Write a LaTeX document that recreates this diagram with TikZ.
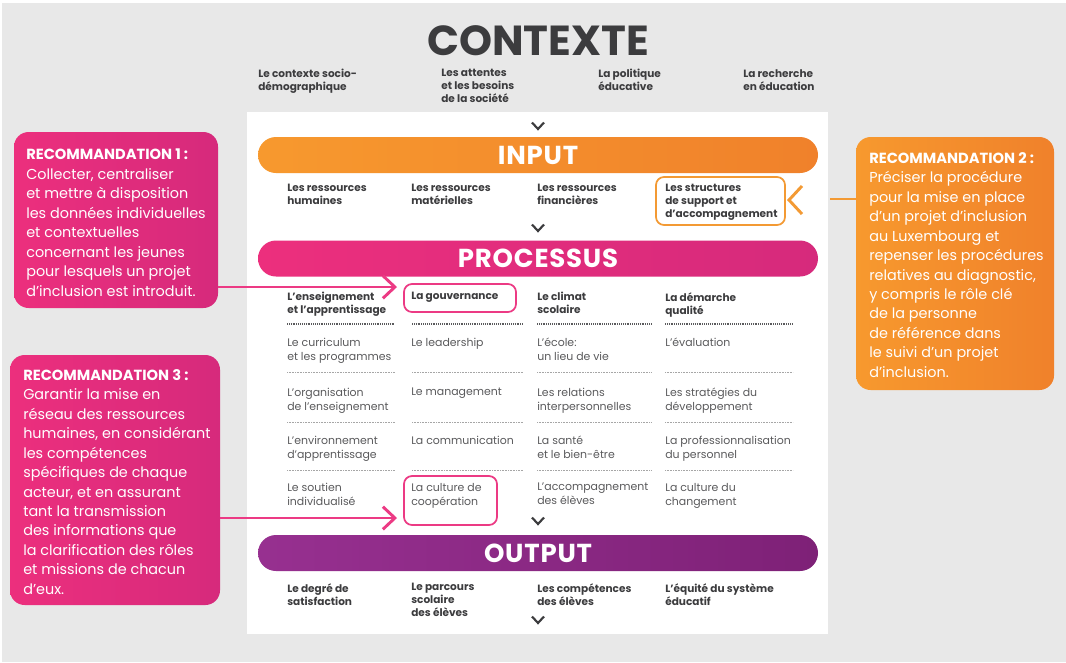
\documentclass[tikz,border=0pt]{standalone}
\usepackage{fontspec}
\setmainfont{Poppins}
\newfontfamily\headfont{Poppins}
\usetikzlibrary{positioning,fit,arrows.meta}

\definecolor{bggray}{HTML}{E8E8E8}
\definecolor{txtdark}{HTML}{3C3C3E}
\definecolor{txtgray}{HTML}{5A5A5C}
\definecolor{orangeA}{HTML}{F7992E}
\definecolor{orangeB}{HTML}{F0812B}
\definecolor{pinkA}{HTML}{EC2F7D}
\definecolor{pinkB}{HTML}{D62A7C}
\definecolor{purpleA}{HTML}{973090}
\definecolor{purpleB}{HTML}{7E2177}
\definecolor{pinkline}{HTML}{EC3A84}
\definecolor{orangeline}{HTML}{F39A34}

\newcommand\rectitlefont{\fontsize{11}{14.6}\selectfont\bfseries}

\tikzset{
  bar/.style={minimum width=420pt, minimum height=27pt, rounded corners=13.5pt, inner sep=0,
    text=white, font=\fontsize{19.5}{20}\selectfont\bfseries\addfontfeature{LetterSpace=3}},
  ctx/.style={anchor=north west, inner sep=0, align=left, text=txtdark,
    font=\fontsize{7.9}{9.75}\selectfont\bfseries},
  cell/.style={anchor=north west, inner sep=0, align=left, text=txtgray,
    font=\fontsize{8.2}{10.5}\selectfont},
  recbox/.style={inner sep=0, rounded corners=11pt},
  rectext/.style={anchor=north west, inner sep=0, align=left, text=white,
    font=\fontsize{10.8}{14.6}\selectfont},
  hlbox/.style={draw=#1, line width=1.3pt, rounded corners=6pt, inner sep=0},
  chev/.style={draw=txtdark, line width=1.6pt},
  recarrow/.style={draw=pinkline, line width=2.2pt, -{Straight Barb[length=9pt,width=17pt]}},
  dotbold/.style={draw=txtgray, line width=1.1pt, dash pattern=on 0.7pt off 0.7pt},
  dotthin/.style={draw=gray!70, line width=0.45pt, dash pattern=on 0.6pt off 0.6pt}
}

\begin{document}
\begin{tikzpicture}[x=0.75pt,y=-0.75pt]
  \useasboundingbox (0,0) rectangle (1066,662);
  % fond et panneau
  \fill[white] (0,0) rectangle (1066,662);
  \fill[bggray] (2,3) rectangle (1066,662);
  \fill[white] (247,112) rectangle (828,634);

  % contexte
  \node[text=txtdark, font=\headfont\fontsize{31.5}{32}\selectfont\bfseries] (ctxt) at (538,41) {CONTEXTE};
  \node[ctx] (ctx1) at (258,69) {Le contexte socio-\\démographique};
  \node[ctx] (ctx2) at (441,69) {Les attentes\\et les besoins\\de la société};
  \node[ctx] (ctx3) at (598,69) {La politique\\éducative};
  \node[ctx] (ctx4) at (743,69) {La recherche\\en éducation};

  % barres
  \node[bar, left color=orangeA, right color=orangeB] (input) at (538,155) {INPUT};
  \node[bar, left color=pinkA, right color=pinkB] (proc) at (538,258.5) {PROCESSUS};
  \node[bar, left color=purpleA, right color=purpleB] (output) at (538,553) {OUTPUT};

  \foreach \y in {126,228,521,620}
    \draw[chev] (532,\y-3.5) -- (538,\y+3) -- (544,\y-3.5);

  % input
  \node[ctx] (in1) at (287,184) {Les ressources\\humaines};
  \node[ctx] (in2) at (411,184) {Les ressources\\matérielles};
  \node[ctx] (in3) at (537,184) {Les ressources\\financières};
  \node[ctx] (in4) at (665,184) {Les structures\\de support et\\d’accompagnement};
  \node[hlbox=orangeline, fit={(656,177) (785,225)}] (struct) {};
  \draw[orangeline, line width=2.2pt] (802,186) -- (789,200) -- (802,214);

  % processus
  \node[ctx] (h1) at (287,292) {L’enseignement\\et l’apprentissage};
  \node[ctx] (h2) at (411,292) {La gouvernance};
  \node[ctx] (h3) at (537,292) {Le climat\\scolaire};
  \node[ctx] (h4) at (665,292) {La démarche\\qualité};

  \node[cell] (r11) at (287,338) {Le curriculum\\et les programmes};
  \node[cell] (r12) at (411,338) {Le leadership};
  \node[cell] (r13) at (537,338) {L’école:\\un lieu de vie};
  \node[cell] (r14) at (665,338) {L’évaluation};

  \node[cell] (r21) at (287,388) {L’organisation\\de l’enseignement};
  \node[cell] (r22) at (411,388) {Le management};
  \node[cell] (r23) at (537,388) {Les relations\\interpersonnelles};
  \node[cell] (r24) at (665,388) {Les stratégies du\\développement};

  \node[cell] (r31) at (287,436) {L’environnement\\d’apprentissage};
  \node[cell] (r32) at (411,436) {La communication};
  \node[cell] (r33) at (537,436) {La santé\\et le bien-être};
  \node[cell] (r34) at (665,436) {La professionnalisation\\du personnel};

  \node[cell] (r41) at (287,483) {Le soutien\\individualisé};
  \node[cell] (r42) at (411,483) {La culture de\\coopération};
  \node[cell] (r43) at (537,483) {L’accompagnement\\des élèves};
  \node[cell] (r44) at (665,483) {La culture du\\changement};

  \foreach \a/\b in {287/395,412/523,537/652,665/793}{
    \draw[dotbold] (\a,324) -- (\b,324);
    \foreach \y in {372,422,470}
      \draw[dotthin] (\a,\y) -- (\b,\y);
  }

  \node[hlbox=pinkline, fit={(404,284) (516,312)}] (gouv) {};
  \node[hlbox=pinkline, fit={(404,476) (497,525)}] (coop) {};

  % output
  \node[ctx] (out1) at (287,583) {Le degré de\\satisfaction};
  \node[ctx] (out2) at (411,583) {Le parcours\\scolaire\\des élèves};
  \node[ctx] (out3) at (537,583) {Les compétences\\des élèves};
  \node[ctx] (out4) at (665,583) {L’équité du système\\éducatif};

  % recommandations
  \node[recbox, left color=pinkA, right color=pinkB, fit={(14,132) (218,308)}] (rec1) {};
  \node[rectext] (rec1t) at (26,149) {{\rectitlefont RECOMMANDATION 1 :}\\Collecter, centraliser\\et mettre à disposition\\les données individuelles\\et contextuelles\\concernant les jeunes\\pour lesquels un projet\\d’inclusion est introduit.};

  \node[recbox, left color=orangeA, right color=orangeB, fit={(856,137) (1054,390)}] (rec2) {};
  \node[rectext] (rec2t) at (869,152) {{\rectitlefont RECOMMANDATION 2 :}\\Préciser la procédure\\pour la mise en place\\d’un projet d’inclusion\\au Luxembourg et\\repenser les procédures\\relatives au diagnostic,\\y compris le rôle clé\\de la personne\\de référence dans\\le suivi d’un projet\\d’inclusion.};

  \node[recbox, left color=pinkA, right color=pinkB, fit={(10,355) (220,605)}] (rec3) {};
  \node[rectext] (rec3t) at (23,369) {{\rectitlefont RECOMMANDATION 3 :}\\Garantir la mise en\\réseau des ressources\\humaines, en considérant\\les compétences\\spécifiques de chaque\\acteur, et en assurant\\tant la transmission\\des informations que\\la clarification des rôles\\et missions de chacun\\d’eux.};

  % fleches
  \coordinate (a1) at (397,287);
  \coordinate (a3) at (397,518);
  \coordinate (a2) at (830,199);
  \draw[recarrow] (rec1.east |- a1) -- (a1);
  \draw[recarrow] (rec3.east |- a3) -- (a3);
  \draw[orangeline, line width=2.2pt] (rec2.west |- a2) -- (a2);
\end{tikzpicture}
\end{document}
